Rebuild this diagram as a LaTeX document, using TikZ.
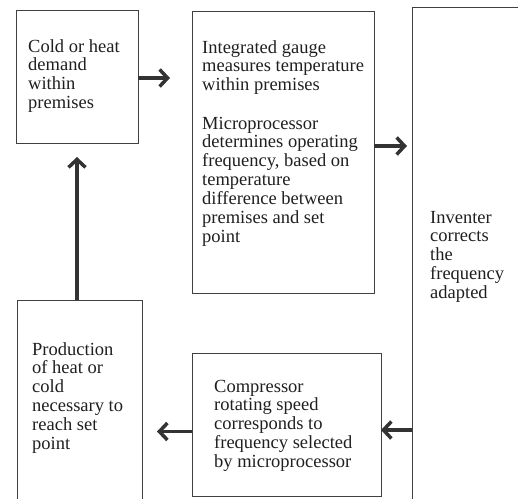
\documentclass[tikz,border=0pt]{standalone}
\usepackage{fontspec}
\setmainfont{Liberation Serif}
\usetikzlibrary{arrows.meta}
\newcommand{\txtblk}[1]{\begin{tabular}[t]{@{}l@{}}#1\end{tabular}}
\begin{document}
\begin{tikzpicture}[x=1pt,y=-1pt,
  box/.style={draw=black!75, line width=0.8pt, anchor=north west, inner sep=0pt, outer sep=0pt},
  openbox/.style={anchor=north west, inner sep=0pt, outer sep=0pt},
  edge/.style={draw=black!75, line width=0.8pt},
  txt/.style={anchor=base west, inner sep=0pt, text=black!88, font=\fontsize{18.5}{18.9}\selectfont},
  flow/.style={line width=3.5pt, draw=black!80, -{Straight Barb[length=8pt,width=17pt]}}]
\useasboundingbox (0,0) rectangle (518,498);
% boxes
\node[box, minimum width=122pt, minimum height=133pt] (A) at (16,10) {};
\node[box, minimum width=182pt, minimum height=282pt] (B) at (192,11) {};
\node[openbox, minimum width=110pt, minimum height=495pt] (C) at (412,7) {};
\node[openbox, minimum width=125pt, minimum height=200pt] (D) at (17,300) {};
\node[box, minimum width=189pt, minimum height=143pt] (E) at (192,353) {};
\draw[edge] (C.north east) -- (C.north west) -- (C.south west);
\draw[edge] (D.south west) -- (D.north west) -- (D.north east) -- (D.south east);
% texts
\node[txt] (tA) at (28,52) {\txtblk{Cold or heat\\demand\\within\\premises}};
\node[txt] (tB1) at (202,53) {\txtblk{Integrated gauge\\measures temperature\\within premises}};
\node[txt] (tB2) at (202,129) {\txtblk{Microprocessor\\determines operating\\frequency, based on\\temperature\\difference between\\premises and set\\point}};
\node[txt] (tC) at (430,223) {\txtblk{Inventer\\corrects\\the\\frequency\\adapted}};
\node[txt] (tD) at (32,355) {\txtblk{Production\\of heat or\\cold\\necessary to\\reach set\\point}};
\node[txt] (tE) at (214,392) {\txtblk{Compressor\\rotating speed\\corresponds to\\frequency selected\\by microprocessor}};
% connectors
\draw[flow, shorten >=22pt] ([yshift=-1.5pt]A.east) -- ([yshift=-1.5pt]A.east -| B.west);
\draw[flow, shorten >=5pt] ([yshift=6pt]B.east) -- ([yshift=6pt]B.east -| C.west);
\draw[flow] ([yshift=-5.5pt]E.east -| C.west) -- ([yshift=-5.5pt]E.east);
\draw[flow, shorten >=15pt] ([yshift=-7pt]E.west) -- ([yshift=-7pt]E.west -| D.east);
\draw[flow, shorten >=14pt] (A.south |- D.north) -- (A.south);
\end{tikzpicture}
\end{document}
